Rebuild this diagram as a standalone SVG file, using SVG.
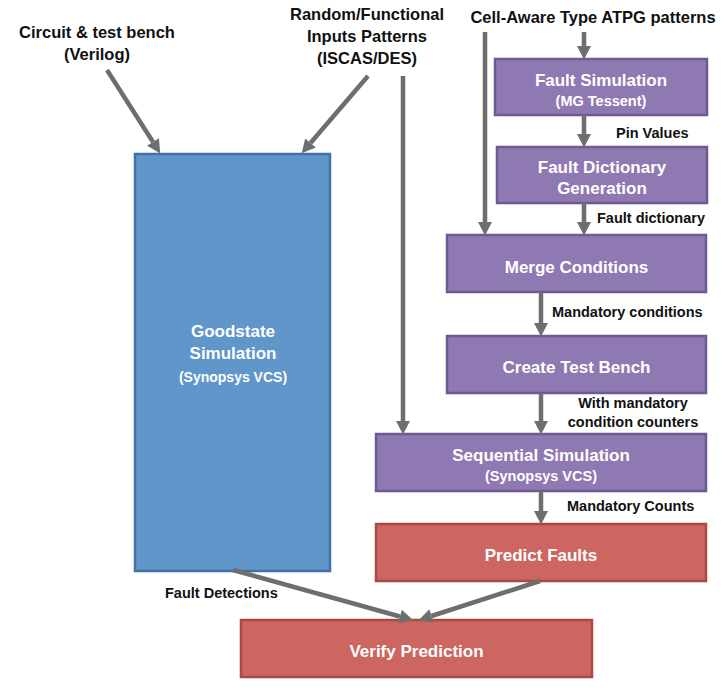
<svg xmlns="http://www.w3.org/2000/svg" width="728" height="691" viewBox="0 0 728 691">
<style>
text{font-family:"Liberation Sans",Arial,sans-serif;font-weight:bold}
.top{font-size:16.5px;fill:#111;text-anchor:middle}
.lbl{font-size:14.5px;fill:#111}
.ttl{font-size:17px;fill:#fff;text-anchor:middle}
.sub{font-size:14.5px;fill:#fff;text-anchor:middle}
.blue{fill:#6096ca;stroke:#4471a3;stroke-width:2.5}
.purple{fill:#8f79b2;stroke:#6d5a93;stroke-width:2.5}
.red{fill:#cd6560;stroke:#a94945;stroke-width:2.5}
.arr{stroke:#6e6e6e;stroke-width:4.5;fill:none;marker-end:url(#ah)}
</style>
<defs>
<marker id="ah" markerUnits="userSpaceOnUse" markerWidth="16" markerHeight="16" viewBox="0 -8 14 16" refX="0" refY="0" orient="auto">
<path d="M0,-7 L13.5,0 L0,7 z" fill="#6e6e6e"/>
</marker>
</defs>

<g id="inputs-text">
<text class="top" x="97" y="38">Circuit &amp; test bench</text>
<text class="top" x="97" y="60">(Verilog)</text>
<text class="top" x="367" y="20">Random/Functional</text>
<text class="top" x="367" y="42">Inputs Patterns</text>
<text class="top" x="367" y="64">(ISCAS/DES)</text>
<text class="top" x="593" y="23">Cell-Aware Type ATPG patterns</text>
</g>

<g id="goodstate">
<rect class="blue" x="135" y="154" width="195" height="417"/>
<text class="ttl" x="233" y="337">Goodstate</text>
<text class="ttl" x="233" y="359">Simulation</text>
<text class="sub" x="233" y="382" style="font-size:14px">(Synopsys VCS)</text>
</g>

<g id="fault-sim">
<rect class="purple" x="495" y="59" width="212" height="56"/>
<text class="ttl" x="601" y="86">Fault Simulation</text>
<text class="sub" x="601" y="106">(MG Tessent)</text>
</g>

<g id="fault-dict">
<rect class="purple" x="497" y="147" width="210" height="56"/>
<text class="ttl" x="602" y="173">Fault Dictionary</text>
<text class="ttl" x="602" y="194">Generation</text>
</g>

<g id="merge">
<rect class="purple" x="447" y="235" width="259" height="57"/>
<text class="ttl" x="576.5" y="273">Merge Conditions</text>
</g>

<g id="create-tb">
<rect class="purple" x="447" y="336" width="259" height="57"/>
<text class="ttl" x="576.5" y="373">Create Test Bench</text>
</g>

<g id="seq-sim">
<rect class="purple" x="376" y="434" width="330" height="57"/>
<text class="ttl" x="541" y="461">Sequential Simulation</text>
<text class="sub" x="541" y="481">(Synopsys VCS)</text>
</g>

<g id="predict">
<rect class="red" x="376" y="524" width="330" height="57"/>
<text class="ttl" x="541" y="561">Predict Faults</text>
</g>

<g id="verify">
<rect class="red" x="241" y="620" width="351" height="57"/>
<text class="ttl" x="416.5" y="657">Verify Prediction</text>
</g>

<g id="connectors">
<line class="arr" x1="107" y1="70" x2="153" y2="142"/>
<line class="arr" x1="368" y1="76" x2="310.5" y2="143"/>
<line class="arr" x1="403" y1="76" x2="403" y2="421"/>
<line class="arr" x1="485" y1="32" x2="485" y2="222"/>
<line class="arr" x1="584" y1="32" x2="584" y2="46"/>
<line class="arr" x1="584" y1="115" x2="584" y2="134"/>
<line class="arr" x1="584" y1="203" x2="584" y2="222"/>
<line class="arr" x1="541" y1="292" x2="541" y2="323"/>
<line class="arr" x1="541" y1="393" x2="541" y2="421"/>
<line class="arr" x1="541" y1="491" x2="541" y2="511"/>
<line class="arr" x1="233" y1="570" x2="400" y2="616.5"/>
<line class="arr" x1="540" y1="581" x2="431.5" y2="616"/>
</g>

<g id="labels">
<text class="lbl" x="616" y="138">Pin Values</text>
<text class="lbl" x="597" y="223">Fault dictionary</text>
<text class="lbl" x="552" y="317">Mandatory conditions</text>
<text class="lbl" x="633" y="408" text-anchor="middle">With mandatory</text>
<text class="lbl" x="633" y="427" text-anchor="middle">condition counters</text>
<text class="lbl" x="567" y="511">Mandatory Counts</text>
<text class="lbl" x="165" y="598">Fault Detections</text>
</g>
</svg>
